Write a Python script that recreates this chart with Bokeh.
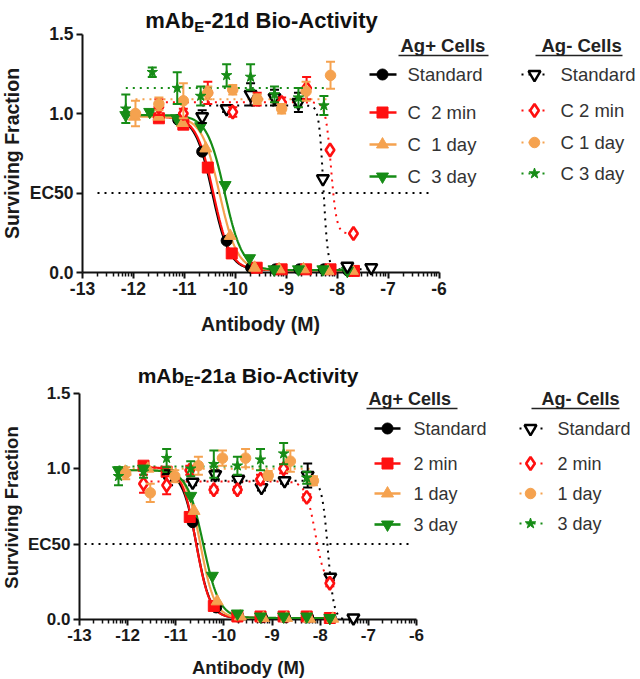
import numpy as np
from bokeh.plotting import figure
from bokeh.layouts import column
from bokeh.models import Range1d, FixedTicker, Label
from bokeh.embed import file_html
from bokeh.resources import INLINE

# ------------------------------------------------------------------
# DATA  (log10 antibody concentration, surviving fraction, SEM)
# ------------------------------------------------------------------
# ---- Top panel: mAbE-21d ----
top_title = ("mAb", "E", "-21d Bio-Activity")
top_pos_labels = ["Standard", "C\u00a0 2 min", "C\u00a0 1 day", "C\u00a0 3 day"]
top_neg_labels = ["Standard", "C 2 min", "C 1 day", "C 3 day"]

top_x_std_pos = [-11.12, -10.65, -10.17, -9.69, -9.21, -8.74, -8.26, -7.78]
top_y_std_pos = [0.96, 0.76, 0.20, 0.03, 0.02, 0.02, 0.02, 0.01]
top_x_2min_pos = [-11.50, -11.02, -10.54, -10.07, -9.58, -9.09, -8.61, -8.13, -7.67]
top_y_2min_pos = [0.97, 0.93, 0.66, 0.12, 0.03, 0.02, 0.02, 0.02, 0.01]
top_x_1day_pos = [-11.98, -11.50, -11.04, -10.58, -10.10, -9.62, -9.14, -8.66, -8.18, -7.70]
top_y_1day_pos = [0.98, 0.98, 0.94, 0.78, 0.23, 0.03, 0.02, 0.02, 0.01, 0.01]
top_x_3day_pos = [-12.15, -11.68, -11.15, -10.68, -10.20, -9.72, -9.24, -8.76, -8.28, -7.80]
top_y_3day_pos = [0.99, 1.01, 0.97, 0.92, 0.55, 0.09, 0.02, 0.02, 0.02, 0.01]

top_x_std_neg = [-10.65, -10.17, -9.70, -9.23, -8.76, -8.28, -7.80, -7.33]
top_y_std_neg = [0.98, 1.03, 1.12, 1.10, 1.07, 0.59, 0.04, 0.03]
top_e_std_neg = [0.04, 0.02, 0.07, 0.05, 0.06, 0.0, 0.0, 0.0]
top_x_2min_neg = [-11.50, -11.02, -10.54, -10.05, -9.57, -9.09, -8.60, -8.14, -7.68]
top_y_2min_neg = [1.04, 1.00, 1.13, 1.01, 1.09, 1.07, 1.16, 0.77, 0.245]
top_e_2min_neg = [0.05, 0.03, 0.07, 0.03, 0.04, 0.03, 0.07, 0.0, 0.0]
top_x_1day_neg = [-11.96, -11.50, -11.02, -10.54, -10.05, -9.57, -9.09, -8.61, -8.13]
top_y_1day_neg = [1.00, 1.06, 1.08, 1.13, 1.15, 1.09, 1.03, 1.14, 1.24]
top_e_1day_neg = [0.08, 0.04, 0.11, 0.04, 0.03, 0.03, 0.03, 0.06, 0.085]
top_x_3day_neg = [-12.15, -11.63, -11.14, -10.68, -10.17, -9.70, -9.23, -8.76, -8.26]
top_y_3day_neg = [1.03, 1.26, 1.16, 1.11, 1.24, 1.23, 1.12, 1.10, 1.05]
top_e_3day_neg = [0.09, 0.03, 0.10, 0.06, 0.07, 0.08, 0.05, 0.06, 0.06]

# fitted curves: [top, bottom, logEC50, hill slope]
top_fit_std_pos = [0.98, 0.015, -10.45, 2.6]
top_fit_2min_pos = [0.98, 0.015, -10.43, 2.6]
top_fit_1day_pos = [0.98, 0.015, -10.31, 2.5]
top_fit_3day_pos = [0.99, 0.015, -10.21, 2.5]
top_fit_std_neg = [1.05, 0.02, -8.27, 10.0]
top_fit_2min_neg = [1.07, 0.245, -8.12, 8.0]
top_fit_1day_neg = [1.09, 1.09, -8.0, 1.0]
top_fit_3day_neg = [1.16, 1.16, -8.0, 1.0]

# ---- Bottom panel: mAbE-21a ----
bot_title = ("mAb", "E", "-21a Bio-Activity")
bot_pos_labels = ["Standard", "2 min", "1 day", "3 day"]
bot_neg_labels = ["Standard", "2 min", "1 day", "3 day"]

bot_x_std_pos = [-11.15, -10.65, -10.16, -9.70, -9.21, -8.73, -8.25, -7.78]
bot_y_std_pos = [0.95, 0.645, 0.08, 0.02, 0.015, 0.015, 0.015, 0.01]
bot_x_2min_pos = [-11.67, -11.19, -10.71, -10.21, -9.72, -9.24, -8.76, -8.28, -7.80]
bot_y_2min_pos = [1.02, 0.98, 0.68, 0.09, 0.02, 0.02, 0.02, 0.02, 0.01]
bot_x_1day_pos = [-12.05, -11.58, -11.10, -10.62, -10.14, -9.66, -9.18, -8.70, -8.22, -7.74]
bot_y_1day_pos = [0.98, 1.00, 0.97, 0.72, 0.12, 0.02, 0.01, 0.01, 0.005, 0.005]
bot_x_3day_pos = [-12.19, -11.67, -11.17, -10.69, -10.24, -9.72, -9.24, -8.76, -8.28, -7.80]
bot_y_3day_pos = [0.99, 1.00, 0.97, 0.82, 0.29, 0.04, 0.02, 0.02, 0.02, 0.01]

bot_x_std_neg = [-11.15, -10.65, -10.18, -9.70, -9.22, -8.74, -8.26, -7.79, -7.31]
bot_y_std_neg = [0.94, 0.91, 0.96, 0.93, 0.875, 0.92, 0.955, 0.28, 0.01]
bot_e_std_neg = [0.05, 0.02, 0.03, 0.02, 0.02, 0.02, 0.08, 0.02, 0.0]
bot_x_2min_neg = [-11.67, -11.19, -10.71, -10.21, -9.72, -9.24, -8.76, -8.28, -7.80]
bot_y_2min_neg = [0.90, 0.89, 0.99, 0.86, 0.86, 0.93, 1.00, 0.81, 0.24]
bot_e_2min_neg = [0.06, 0.06, 0.03, 0.02, 0.02, 0.03, 0.03, 0.02, 0.02]
bot_x_1day_neg = [-12.04, -11.53, -11.02, -10.53, -10.03, -9.55, -9.08, -8.62, -8.14]
bot_y_1day_neg = [0.97, 0.84, 0.95, 1.02, 1.07, 1.07, 0.955, 1.05, 0.92]
bot_e_1day_neg = [0.04, 0.06, 0.04, 0.06, 0.05, 0.06, 0.03, 0.07, 0.03]
bot_x_3day_neg = [-12.19, -11.67, -11.19, -10.69, -10.21, -9.72, -9.24, -8.76, -8.28]
bot_y_3day_neg = [0.95, 0.98, 1.07, 1.00, 1.03, 1.02, 1.06, 1.10, 0.94]
bot_e_3day_neg = [0.06, 0.04, 0.06, 0.05, 0.09, 0.06, 0.07, 0.07, 0.04]

bot_fit_std_pos = [0.98, 0.01, -10.57, 3.0]
bot_fit_2min_pos = [1.01, 0.01, -10.58, 3.0]
bot_fit_1day_pos = [0.99, 0.01, -10.49, 2.9]
bot_fit_3day_pos = [0.99, 0.01, -10.43, 2.6]
bot_fit_std_neg = [0.92, 0.0, -7.84, 7.0]
bot_fit_2min_neg = [0.915, 0.22, -8.10, 4.3]
bot_fit_1day_neg = [1.00, 1.00, -8.0, 1.0]
bot_fit_3day_neg = [1.015, 1.015, -8.0, 1.0]

x_ticks = [-13, -12, -11, -10, -9, -8, -7, -6]
y_ticks = [0.0, 0.5, 1.0, 1.5]
y_tick_labels = ["0.0", "EC50", "1.0", "1.5"]
x_axis_title = "Antibody (M)"
y_axis_title = "Surviving Fraction"
head_pos = "Ag+ Cells"
head_neg = "Ag- Cells"

# ------------------------------------------------------------------
# STYLE
# ------------------------------------------------------------------
FONT = "Liberation Sans"
BLACK = "#000000"
RED = "#FF1010"
ORANGE = "#F5A24F"
GREEN = "#168C16"
TXT = "#333333"

STYLE_POS = [
    dict(color=BLACK, marker="circle", size=11),
    dict(color=RED, marker="square", size=11),
    dict(color=ORANGE, marker="triangle", size=12),
    dict(color=GREEN, marker="inverted_triangle", size=12),
]
STYLE_NEG = [
    dict(color=BLACK, marker="inverted_triangle", size=12, fill="white", lw=2.4),
    dict(color=RED, marker="diamond", size=13, fill="white", lw=2.6),
    dict(color=ORANGE, marker="circle", size=10.5, fill=ORANGE, lw=1),
    dict(color=GREEN, marker="star", size=11, fill=GREEN, lw=1),
]

PAGE_W = 640


def fit_curve(xs, params, n=300):
    top, bottom, logec50, hill = params
    xx = np.linspace(min(xs), max(xs), n)
    yy = bottom + (top - bottom) / (1.0 + 10.0 ** ((xx - logec50) * hill))
    return xx, yy


def make_panel(cfg):
    X0, PPD, Y0, PPU = cfg["X0"], cfg["PPD"], cfg["Y0"], cfg["PPU"]
    top_px, H = cfg["top_px"], cfg["height"]

    def fx(px):
        return -13 + (px - X0) / PPD

    def fy(py):
        return (Y0 - py) / PPU

    p = figure(width=PAGE_W, height=H,
               x_range=Range1d(fx(0), fx(PAGE_W)),
               y_range=Range1d(fy(top_px + H), fy(top_px)),
               output_backend="svg", toolbar_location=None, tools="",
               min_border=0, outline_line_color=None)
    p.grid.visible = False

    minor = [d + np.log10(k) for d in range(-13, -6) for k in range(2, 10)]
    xa = p.xaxis[0]
    xa.fixed_location = 0
    xa.bounds = (-13, -6)
    xa.ticker = FixedTicker(ticks=x_ticks, minor_ticks=minor)
    xa.major_label_overrides = {t: str(t) for t in x_ticks}
    ya = p.yaxis[0]
    ya.fixed_location = -13
    ya.bounds = (0, 1.5)
    ya.ticker = FixedTicker(ticks=y_ticks, minor_ticks=[])
    ya.major_label_overrides = {t: l for t, l in zip(y_ticks, y_tick_labels)}
    for ax in (xa, ya):
        ax.axis_line_width = 2
        ax.axis_line_color = "#111111"
        ax.major_tick_line_width = 2
        ax.major_tick_line_color = "#111111"
        ax.major_tick_out = 6
        ax.major_tick_in = 0
        ax.minor_tick_out = 4
        ax.minor_tick_in = 0
        ax.minor_tick_line_width = 1.5
        ax.minor_tick_line_color = "#111111"
        ax.major_label_text_font = FONT
        ax.major_label_text_font_style = "bold"
        ax.major_label_text_font_size = cfg["tick_size"]
        ax.major_label_text_color = "#1a1a1a"
        ax.level = "underlay"
    xa.major_label_standoff = 3
    ya.major_label_standoff = 3

    # EC50 reference line
    p.line([fx(cfg["ec50_x0"]), fx(cfg["ec50_x1"])], [0.5, 0.5], line_color=BLACK,
           line_width=2, line_dash="2 5")

    pos = cfg["pos"]
    neg = cfg["neg"]

    for (xs, ys, es, fit), st in zip(neg, STYLE_NEG):
        cx, cy = fit_curve(xs, fit)
        p.line(cx, cy, line_color=st["color"], line_width=2, line_dash="2 5")
    for (xs, ys, fit), st in zip(pos, STYLE_POS):
        cx, cy = fit_curve(xs, fit)
        p.line(cx, cy, line_color=st["color"], line_width=2.2)
    for (xs, ys, fit), st in zip(pos, STYLE_POS):
        p.scatter(xs, ys, marker=st["marker"], size=st["size"], fill_color=st["color"],
                  line_color=st["color"])
    for (xs, ys, es, fit), st in zip(neg, STYLE_NEG):
        lo = [y - e for y, e in zip(ys, es)]
        hi = [y + e for y, e in zip(ys, es)]
        p.segment(xs, lo, xs, hi, line_color=st["color"], line_width=2)
        p.scatter(xs, lo, marker="dash", size=9, line_color=st["color"], line_width=2)
        p.scatter(xs, hi, marker="dash", size=9, line_color=st["color"], line_width=2)
        p.scatter(xs, ys, marker=st["marker"], size=st["size"], fill_color=st["fill"],
                  line_color=st["color"], line_width=st["lw"])

    def text(px, py, s, size, bold=False, align="left", baseline="middle",
             color=TXT, angle=0.0):
        p.add_layout(Label(x=fx(px), y=fy(py), text=s, text_font=FONT,
                           text_font_size=f"{size}px",
                           text_font_style="bold" if bold else "normal",
                           text_align=align, text_baseline=baseline,
                           text_color=color, angle=angle))

    # title with subscript
    F = cfg["title_size"]
    Fs = round(F * 0.68, 1)
    main, sub, rest = cfg["title"]
    W = F * (2.222 + cfg["rest_em"]) + Fs * 0.667
    sx = cfg["title_cx"] - W / 2
    by = cfg["title_base"]
    text(sx, by, main, F, bold=True, baseline="alphabetic", color="#111111")
    text(sx + 2.222 * F, by + 0.27 * F, sub, Fs, bold=True, baseline="alphabetic",
         color="#111111")
    text(sx + 2.222 * F + 0.667 * Fs, by, rest, F, bold=True, baseline="alphabetic",
         color="#111111")

    # axis titles
    text(cfg["xlab"][0], cfg["xlab"][1], x_axis_title, cfg["lab_size"], bold=True,
         align="center", color="#1a1a1a")
    text(cfg["ylab"][0], cfg["ylab"][1], y_axis_title, cfg["lab_size"], bold=True,
         align="center", color="#1a1a1a", angle=np.pi / 2)

    # legend
    L = cfg["leg"]
    ls = L["size"]
    text(L["pos_head"][0], L["pos_head"][1], head_pos, ls, bold=True, color="#222222")
    text(L["neg_head"][0], L["neg_head"][1], head_neg, ls, bold=True, color="#222222")
    for (u0, u1, uy) in (L["pos_ul"], L["neg_ul"]):
        p.line([fx(u0), fx(u1)], [fy(uy), fy(uy)], line_color="#222222", line_width=1.6)
    for row, lab, st in zip(L["pos_rows"], cfg["pos_labels"], STYLE_POS):
        p.line([fx(L["pos_line"][0]), fx(L["pos_line"][1])], [fy(row)] * 2,
               line_color=st["color"], line_width=2.6)
        p.scatter([fx(L["pos_mark"])], [fy(row)], marker=st["marker"], size=st["size"],
                  fill_color=st["color"], line_color=st["color"])
        text(L["pos_text"], row, lab, ls)
    for row, lab, st in zip(L["neg_rows"], cfg["neg_labels"], STYLE_NEG):
        p.line([fx(L["neg_line"][0]), fx(L["neg_line"][1])], [fy(row)] * 2,
               line_color=st["color"], line_width=2, line_dash="2 5")
        p.scatter([fx(L["neg_mark"])], [fy(row)], marker=st["marker"], size=st["size"],
                  fill_color=st["fill"], line_color=st["color"], line_width=st["lw"])
        text(L["neg_text"], row, lab, ls)
    return p


top_cfg = dict(
    X0=82, PPD=50.93, Y0=272, PPU=159, top_px=0, height=343,
    tick_size="17.5px", lab_size=19.5, title_size=22, rest_em=7.89,
    title=top_title, title_cx=261, title_base=20,
    xlab=(260, 323), ylab=(11, 153),
    ec50_x0=97, ec50_x1=432,
    pos_labels=top_pos_labels, neg_labels=top_neg_labels,
    pos=[(top_x_std_pos, top_y_std_pos, top_fit_std_pos),
         (top_x_2min_pos, top_y_2min_pos, top_fit_2min_pos),
         (top_x_1day_pos, top_y_1day_pos, top_fit_1day_pos),
         (top_x_3day_pos, top_y_3day_pos, top_fit_3day_pos)],
    neg=[(top_x_std_neg, top_y_std_neg, top_e_std_neg, top_fit_std_neg),
         (top_x_2min_neg, top_y_2min_neg, top_e_2min_neg, top_fit_2min_neg),
         (top_x_1day_neg, top_y_1day_neg, top_e_1day_neg, top_fit_1day_neg),
         (top_x_3day_neg, top_y_3day_neg, top_e_3day_neg, top_fit_3day_neg)],
    leg=dict(size=18.5,
             pos_head=(400, 45), neg_head=(541, 45),
             pos_ul=(398, 488, 55), neg_ul=(535, 622, 55),
             pos_rows=[74, 112, 144, 176], neg_rows=[74, 110, 142, 173],
             pos_line=(369, 396), pos_mark=382, pos_text=407,
             neg_line=(521, 546), neg_mark=534, neg_text=560),
)

bot_cfg = dict(
    X0=79, PPD=48.14, Y0=619, PPU=150.8, top_px=343, height=336,
    tick_size="17px", lab_size=18.5, title_size=21, rest_em=7.835,
    title=bot_title, title_cx=247.5, title_base=375,
    xlab=(248, 667), ylab=(11, 507),
    ec50_x0=84, ec50_x1=410,
    pos_labels=bot_pos_labels, neg_labels=bot_neg_labels,
    pos=[(bot_x_std_pos, bot_y_std_pos, bot_fit_std_pos),
         (bot_x_2min_pos, bot_y_2min_pos, bot_fit_2min_pos),
         (bot_x_1day_pos, bot_y_1day_pos, bot_fit_1day_pos),
         (bot_x_3day_pos, bot_y_3day_pos, bot_fit_3day_pos)],
    neg=[(bot_x_std_neg, bot_y_std_neg, bot_e_std_neg, bot_fit_std_neg),
         (bot_x_2min_neg, bot_y_2min_neg, bot_e_2min_neg, bot_fit_2min_neg),
         (bot_x_1day_neg, bot_y_1day_neg, bot_e_1day_neg, bot_fit_1day_neg),
         (bot_x_3day_neg, bot_y_3day_neg, bot_e_3day_neg, bot_fit_3day_neg)],
    leg=dict(size=18,
             pos_head=(368, 398), neg_head=(541, 398),
             pos_ul=(366, 457, 408), neg_ul=(531, 619, 408),
             pos_rows=[428, 463, 493, 524], neg_rows=[428, 463, 493, 523],
             pos_line=(374, 400), pos_mark=387, pos_text=413,
             neg_line=(519, 542), neg_mark=530, neg_text=557),
)

p1 = make_panel(top_cfg)
p2 = make_panel(bot_cfg)
layout = column(p1, p2)
open("out.html", "w").write(file_html(layout, INLINE))
